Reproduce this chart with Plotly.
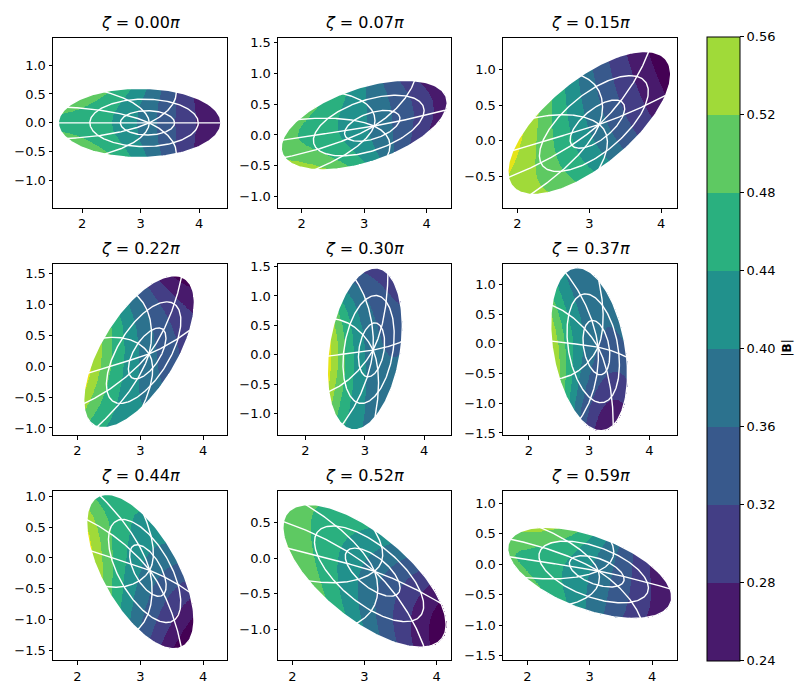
import numpy as np
import plotly.graph_objects as go

W, H = 808, 699

# ---------------- data ----------------
zeta_labels = ["0.00", "0.07", "0.15", "0.22", "0.30", "0.37", "0.44", "0.52", "0.59"]
tilt_deg = [0, 19, 40, 59, 81, 100, 119, 140, 159]
center_R = [2.985, 3.0, 3.0, 2.98, 3.0, 3.0, 3.0, 3.0, 3.0]
center_Z = [0.0, 0.16, 0.25, 0.235, 0.10, -0.09, -0.22, -0.25, -0.14]
axis_R = [3.15, 3.16, 3.14, 3.14, 3.14, 3.15, 3.15, 3.14, 3.14]
axis_Z = [0.0, 0.145, 0.23, 0.20, 0.08, -0.056, -0.20, -0.185, -0.11]
semi_major = 1.39
semi_minor = 0.60
surface_rho = [1 / 3, 2 / 3, 1.0]
theta_lines = [k * np.pi / 4 for k in range(8)]

# |B| read at u = -1, -0.5, 0, 0.5, 1 along the major axis
B_major = [
    [0.475, 0.455, 0.395, 0.31, 0.252],
    [0.505, 0.46, 0.405, 0.335, 0.25],
    [0.545, 0.49, 0.395, 0.30, 0.215],
    [0.46, 0.45, 0.40, 0.33, 0.225],
    [0.42, 0.42, 0.40, 0.36, 0.30],
    [0.255, 0.32, 0.38, 0.39, 0.38],
    [0.215, 0.32, 0.40, 0.46, 0.47],
    [0.215, 0.30, 0.39, 0.46, 0.50],
    [0.25, 0.32, 0.40, 0.46, 0.49],
]
# |B| at minor-axis tips (v=+1, v=-1)
B_minor = [
    [0.42, 0.42], [0.43, 0.41], [0.45, 0.38], [0.50, 0.34], [0.57, 0.36],
    [0.56, 0.36], [0.50, 0.38], [0.46, 0.40], [0.42, 0.41],
]
# |B| at boundary points u=-0.6, v=+0.8 / v=-0.8
B_lobe_left = [
    [0.50, 0.50], [0.49, 0.525], [0.565, 0.50], [0.57, 0.41], [0.55, 0.38],
    [0.44, 0.30], [0.36, 0.27], [0.34, 0.27], [0.31, 0.28],
]
# |B| at boundary points u=+0.6, v=+0.8 / v=-0.8
B_lobe_right = [
    [0.29, 0.29], [0.31, 0.29], [0.31, 0.265], [0.35, 0.29], [0.42, 0.32],
    [0.50, 0.37], [0.57, 0.44], [0.52, 0.47], [0.49, 0.53],
]

x_ranges = [[1.504, 4.478], [1.62, 4.39], [1.80, 4.22], [1.61, 4.38], [1.54, 4.45],
            [1.57, 4.46], [1.61, 4.38], [1.80, 4.20], [1.61, 4.40]]
y_ranges = [[-1.48, 1.477], [-1.19, 1.58], [-0.95, 1.45], [-1.12, 1.66], [-1.37, 1.55],
            [-1.54, 1.35], [-1.66, 1.09], [-1.44, 0.95], [-1.58, 1.21]]

cb_levels = [0.24, 0.28, 0.32, 0.36, 0.40, 0.44, 0.48, 0.52, 0.56]
band_colors = ["#440154", "#481a6c", "#433e85", "#38598c", "#2c728e",
               "#21918c", "#2ab07f", "#5ec962", "#a0da39", "#e5e419"]
level_low = 0.20
level_step = 0.04

# ---------------- layout geometry (pixels) ----------------
col_px = [(53, 227), (278, 451), (503, 677)]
row_px = [(34, 207), (263, 437), (493, 665)]

fig = go.Figure()

nb = len(band_colors)
cs_all = []
for k, c in enumerate(band_colors):
    cs_all.append([k / nb, c])
    cs_all.append([(k + 1) / nb, c])


def field(i, u, v):
    up = np.array([-1, -0.5, 0, 0.5, 1])
    P = np.poly1d(np.polyfit(up, B_major[i], 4))
    us = np.array([-0.6, 0.0, 0.6])
    pairs = [B_lobe_left[i], B_minor[i], B_lobe_right[i]]
    vv = [0.8, 1.0, 0.8]
    lin = [(p[0] - p[1]) / (2 * w) for p, w in zip(pairs, vv)]
    quad = [(p[0] + p[1] - 2 * P(uu)) / (2 * w * w) for p, uu, w in zip(pairs, us, vv)]
    L = np.poly1d(np.polyfit(us, lin, 2))
    Q = np.poly1d(np.polyfit(us, quad, 2))
    return P(u) + L(u) * v + Q(u) * v * v


def surf(i, rho, theta):
    al = np.deg2rad(tilt_deg[i])
    s = rho ** 1.5
    cx = axis_R[i] + (center_R[i] - axis_R[i]) * s
    cz = axis_Z[i] + (center_Z[i] - axis_Z[i]) * s
    t = theta - al + 0.45 * rho * np.sin(theta)
    ar = semi_major * rho
    br = semi_minor * rho * (1.08 - 0.08 * rho)
    lu = ar * np.cos(t)
    lv = br * np.sin(t)
    return cx + lu * np.cos(al) - lv * np.sin(al), cz + lu * np.sin(al) + lv * np.cos(al)


for i in range(9):
    r, c = divmod(i, 3)
    sfx = "" if i == 0 else str(i + 1)
    al = np.deg2rad(tilt_deg[i])
    ca, sa = np.cos(al), np.sin(al)
    hx = np.sqrt((semi_major * ca) ** 2 + (semi_minor * sa) ** 2)
    hy = np.sqrt((semi_major * sa) ** 2 + (semi_minor * ca) ** 2)
    d = 0.007
    xs = np.arange(center_R[i] - hx - 0.02, center_R[i] + hx + 0.02, d)
    ys = np.arange(center_Z[i] - hy - 0.02, center_Z[i] + hy + 0.02, d)
    X, Y = np.meshgrid(xs, ys)
    dx, dy = X - center_R[i], Y - center_Z[i]
    u = (dx * ca + dy * sa) / semi_major
    v = (-dx * sa + dy * ca) / semi_minor
    B = field(i, u, v)
    k = np.clip(np.floor((B - level_low) / level_step), 0, nb - 1) + 0.5
    k[u * u + v * v > 1.0] = np.nan
    fig.add_trace(go.Heatmap(x=xs, y=ys, z=k.astype(np.float32), zmin=0, zmax=nb,
                             colorscale=cs_all, showscale=False, hoverinfo="skip",
                             xaxis="x" + sfx, yaxis="y" + sfx))
    lx, ly = [], []
    tt = np.linspace(0, 2 * np.pi, 240)
    for rho in surface_rho:
        px, py = surf(i, rho, tt)
        lx += list(px) + [None]
        ly += list(py) + [None]
    rr = np.linspace(0, 1, 80)
    for th in theta_lines:
        px, py = surf(i, rr, th)
        lx += list(px) + [None]
        ly += list(py) + [None]
    fig.add_trace(go.Scatter(x=lx, y=ly, mode="lines", line=dict(color="white", width=1.4),
                             hoverinfo="skip", showlegend=False,
                             xaxis="x" + sfx, yaxis="y" + sfx))

    x0, x1 = col_px[c]
    y0, y1 = row_px[r]
    axstyle = dict(showline=True, mirror=True, linecolor="black", linewidth=1,
                   ticks="outside", ticklen=3.5, tickwidth=1, tickcolor="black",
                   showgrid=False, zeroline=False,
                   tickfont=dict(family="DejaVu Sans", size=13, color="black"))
    fig.layout["xaxis" + sfx] = dict(domain=[x0 / W, x1 / W], range=x_ranges[i],
                                     anchor="y" + sfx, tick0=0, dtick=1, **axstyle)
    fig.layout["yaxis" + sfx] = dict(domain=[1 - y1 / H, 1 - y0 / H], range=y_ranges[i],
                                     anchor="x" + sfx, tick0=0, dtick=0.5, tickformat=".1f",
                                     **axstyle)
    fig.add_annotation(text="<i>ζ</i> = " + zeta_labels[i] + "<i>π</i>",
                       x=(x0 + x1) / 2 / W, y=1 - (y0 - 15) / H, xref="paper", yref="paper",
                       xanchor="center", yanchor="middle", showarrow=False,
                       font=dict(family="DejaVu Sans", size=16, color="black"))

# colorbar
cb_cols = band_colors[1:9]
nc = len(cb_cols)
cs_cb = []
for k, c in enumerate(cb_cols):
    cs_cb.append([k / nc, c])
    cs_cb.append([(k + 1) / nc, c])
fig.add_trace(go.Heatmap(x=[100, 101], y=[100, 101], z=[[cb_levels[0], cb_levels[-1]], [cb_levels[0], cb_levels[-1]]],
                         zmin=cb_levels[0], zmax=cb_levels[-1], colorscale=cs_cb, hoverinfo="skip",
                         colorbar=dict(x=707 / W, xanchor="left", xpad=0, ypad=0,
                                       y=1 - 349 / H, yanchor="middle", len=(665 - 33) / H,
                                       lenmode="fraction", thickness=33, thicknessmode="pixels",
                                       outlinewidth=1, outlinecolor="black",
                                       tickvals=cb_levels, ticktext=["%.2f" % l for l in cb_levels],
                                       ticks="outside", ticklen=4, tickcolor="black",
                                       tickfont=dict(family="DejaVu Sans", size=13, color="black")),
                         xaxis="x", yaxis="y"))
fig.add_annotation(text="|<b>B</b>|", x=787 / W, y=1 - 349 / H, xref="paper", yref="paper",
                   textangle=-90, showarrow=False, xanchor="center", yanchor="middle",
                   font=dict(family="DejaVu Sans", size=12, color="black"))

fig.update_layout(width=W, height=H, margin=dict(l=0, r=0, t=0, b=0),
                  paper_bgcolor="white", plot_bgcolor="white", showlegend=False)
fig.write_html("out.html")
